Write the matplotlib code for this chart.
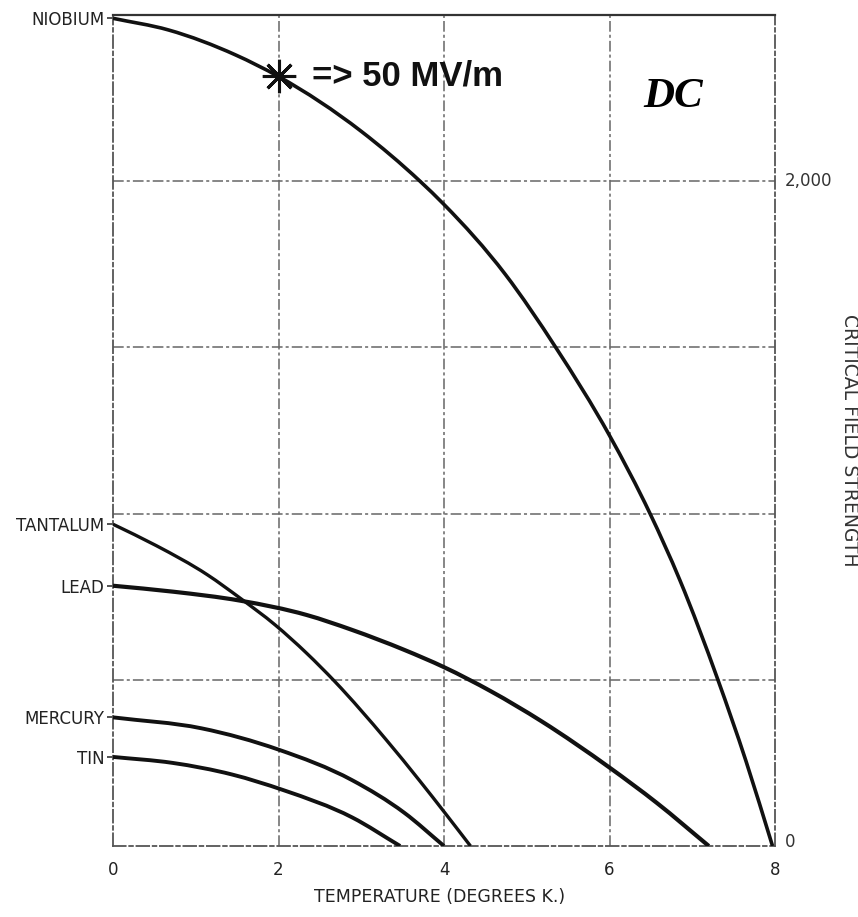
import numpy as np
import matplotlib.pyplot as plt
from matplotlib.path import Path
from matplotlib.patches import PathPatch

# critical field strength vs temperature
nb_t = [0, 0.67, 1.48, 2.0, 3.0, 3.71, 4.0, 4.74, 5.35, 6.0, 6.49, 6.85, 7.31, 7.65, 7.97]
nb_h = [2490, 2455, 2380, 2315, 2150, 2000, 1930, 1720, 1500, 1235, 1000, 800, 500, 255, 0]

ta_t = [0, 0.52, 1.14, 1.54, 1.96, 2.34, 2.68, 3.30, 3.71, 4.01, 4.32]
ta_h = [968, 904, 816, 745, 665, 580, 495, 320, 195, 100, 0]

pb_t = [0, 0.73, 1.54, 2.34, 2.89, 3.52, 4.0, 4.57, 5.18, 6.0, 6.57, 7.20]
pb_h = [783, 765, 738, 695, 650, 590, 538, 465, 375, 236, 130, 0]

hg_t = [0, 1.07, 2.0, 2.89, 3.52, 4.0]
hg_h = [387, 354, 290, 198, 100, 0]

sn_t = [0, 0.72, 1.44, 2.06, 2.89, 3.47]
sn_h = [268, 250, 215, 168, 86, 0]

names = ["NIOBIUM", "TANTALUM", "LEAD", "MERCURY", "TIN"]
start_h = [nb_h[0], ta_h[0], pb_h[0], hg_h[0], sn_h[0]]

star_t, star_h = 2.0, 2315


def smooth_path(t, h):
    # cubic Hermite segments through the read points, as Bezier curves
    t = np.asarray(t, float)
    h = np.asarray(h, float)
    dt = np.diff(t)
    d = np.diff(h) / dt
    m = np.empty_like(h)
    m[0], m[-1] = d[0], d[-1]
    m[1:-1] = (d[:-1] * dt[1:] + d[1:] * dt[:-1]) / (dt[:-1] + dt[1:])
    verts = [(t[0], h[0])]
    codes = [Path.MOVETO]
    for i in range(len(t) - 1):
        s = dt[i] / 3
        verts += [(t[i] + s, h[i] + m[i] * s),
                  (t[i + 1] - s, h[i + 1] - m[i + 1] * s),
                  (t[i + 1], h[i + 1])]
        codes += [Path.CURVE4] * 3
    return Path(verts, codes)


W, H = 858, 917
fig = plt.figure(figsize=(W / 100, H / 100), dpi=100)
ax = fig.add_axes([113 / W, 1 - 846 / H, 662 / W, 831 / H])

ax.set_xlim(0, 8)
ax.set_ylim(0, 2500)

gridstyle = dict(color="#666666", lw=1.1, ls=(0, (7, 2, 2, 2)), zorder=1)
for t in [2, 4, 6]:
    ax.axvline(t, **gridstyle)
for h in [500, 1000, 1500, 2000]:
    ax.axhline(h, **gridstyle)

for side in ["left", "bottom", "right"]:
    ax.spines[side].set_color("#555555")
    ax.spines[side].set_linewidth(1.3)
    ax.spines[side].set_linestyle((0, (7, 2, 2, 2)))
ax.spines["top"].set_color("#333333")
ax.spines["top"].set_linewidth(1.6)

curves = [(nb_t, nb_h, 2.6), (ta_t, ta_h, 2.4), (pb_t, pb_h, 3.0),
          (hg_t, hg_h, 2.8), (sn_t, sn_h, 2.8)]
for t, h, lw in curves:
    ax.add_patch(PathPatch(smooth_path(t, h), fill=False, edgecolor="#111111",
                           lw=lw, capstyle="butt", joinstyle="round", zorder=3))

ax.plot([star_t], [star_h], marker=(8, 2, 0), ms=24, mew=2.2,
        color="#111111", zorder=4)

ax.set_xticks([0, 2, 4, 6, 8])
ax.tick_params(axis="x", length=0, pad=11, labelsize=12, labelcolor="#222222")
ax.set_yticks(start_h)
ax.set_yticklabels(names)
ax.tick_params(axis="y", length=4, width=1.2, color="#333333", pad=2,
               labelsize=12, labelcolor="#222222")

for val, txt in [(2000, "2,000"), (0, "0")]:
    ax.annotate(txt, xy=(1, val), xycoords=("axes fraction", "data"),
                xytext=(7, 0 if val else 3), textcoords="offset points",
                ha="left", va="center", fontsize=12, color="#333333")

fig.text(440 / W, 1 - 897 / H, "TEMPERATURE (DEGREES K.)", ha="center",
         va="center", fontsize=12.5, color="#222222")

fig.text(840 / W, 1 - 440 / H, "CRITICAL FIELD STRENGTH", rotation=270,
         ha="left", va="center", fontsize=13.5, color="#333333")

fig.text(312 / W, 1 - 85 / H, "=> 50 MV/m", ha="left", va="baseline",
         fontsize=25, fontweight="bold", family="Liberation Sans",
         color="#111111")
fig.text(643 / W, 1 - 107 / H, "DC", ha="left", va="baseline",
         fontsize=31, fontweight="bold", fontstyle="italic",
         family="Liberation Serif", color="#000000")

fig.savefig("out.png", dpi=100)
